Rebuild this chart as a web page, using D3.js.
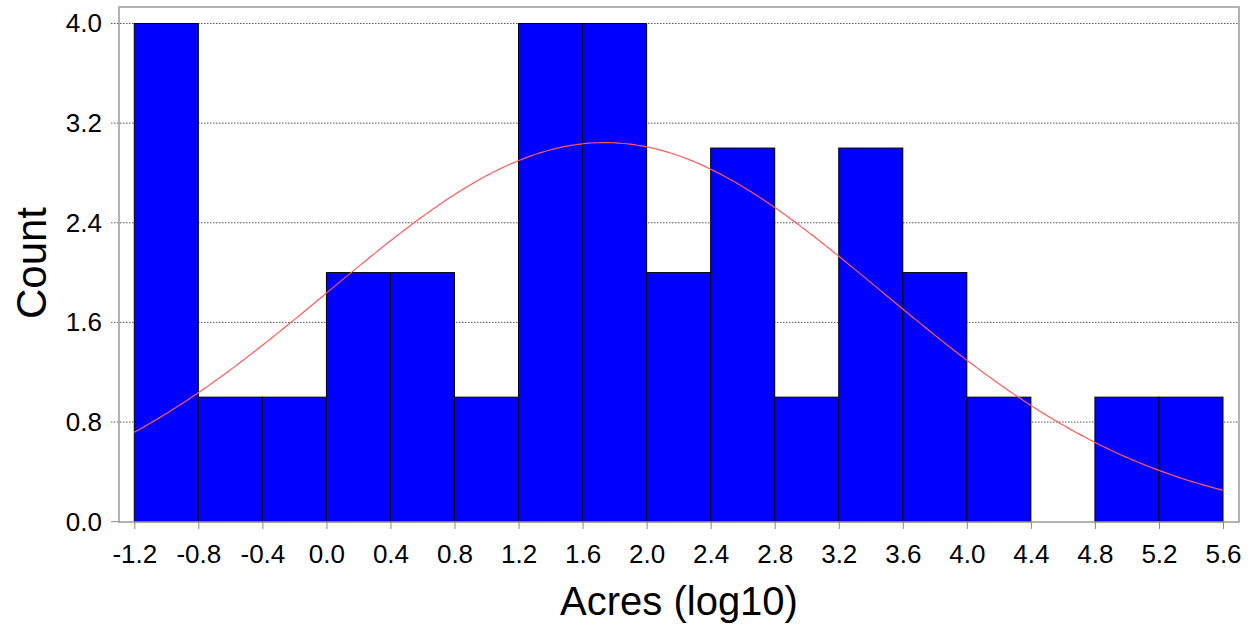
<!DOCTYPE html>
<html><head><meta charset="utf-8">
<script src="https://cdn.jsdelivr.net/npm/d3@7"></script>
<style>body{margin:0;background:#fff}svg{display:block}text{font-family:Arial,"Liberation Sans",sans-serif;fill:#000}</style>
</head><body>
<svg id="c" width="1253" height="629"></svg>
<script>
const binStarts = [-1.2,-0.8,-0.4,0.0,0.4,0.8,1.2,1.6,2.0,2.4,2.8,3.2,3.6,4.0,4.4,4.8,5.2];
const counts    = [4,1,1,2,2,1,4,4,2,3,1,3,2,1,0,1,1];
const binWidth = 0.4;
const xTicks = [-1.2,-0.8,-0.4,0.0,0.4,0.8,1.2,1.6,2.0,2.4,2.8,3.2,3.6,4.0,4.4,4.8,5.2,5.6];
const yTicks = [0.0,0.8,1.6,2.4,3.2,4.0];
const fitMean = 1.74, fitSd = 1.73;

const svg = d3.select("#c");
const frame = {l:119, r:1239, t:7, b:522};
const x = d3.scaleLinear().domain([-1.2,5.6]).range([134.3,1223]);
const y = d3.scaleLinear().domain([0,4]).range([521.7,23.5]);

// grid
svg.append("g").selectAll("line").data(yTicks.filter(d=>d>0)).join("line")
  .attr("x1",frame.l-8).attr("x2",frame.r).attr("y1",d=>y(d)).attr("y2",d=>y(d))
  .attr("stroke","#555").attr("stroke-width",1).attr("stroke-dasharray","1.5,1.5");

// bars
svg.append("g").selectAll("rect").data(binStarts.map((s,i)=>({s,c:counts[i]})).filter(d=>d.c>0)).join("rect")
  .attr("x",d=>x(d.s)).attr("width",d=>x(d.s+binWidth)-x(d.s))
  .attr("y",d=>y(d.c)).attr("height",d=>y(0)-y(d.c))
  .attr("fill","#0000ff").attr("stroke","#000").attr("stroke-width",1);

// normal fit curve
const N = d3.sum(counts);
const pts = d3.range(0,401).map(i=>-1.2+i*6.8/400);
const f = v => N*binWidth/(fitSd*Math.sqrt(2*Math.PI))*Math.exp(-0.5*((v-fitMean)/fitSd)**2);
svg.append("path").datum(pts)
  .attr("d",d3.line().x(d=>x(d)).y(d=>y(f(d))))
  .attr("fill","none").attr("stroke","#ff5a5a").attr("stroke-width",1.2);

// frame
svg.append("rect").attr("x",frame.l).attr("y",frame.t).attr("width",frame.r-frame.l).attr("height",frame.b-frame.t)
  .attr("fill","none").attr("stroke","#9a9a9a").attr("stroke-width",1.5);

// x axis
const xa = svg.append("g").attr("transform",`translate(0,${frame.b})`)
  .call(d3.axisBottom(x).tickValues(xTicks).tickFormat(d3.format(".1f")).tickSize(7).tickPadding(16));
xa.select(".domain").remove();
xa.selectAll("line").attr("stroke","#888");
xa.selectAll("text").style("font-size","26px").text(d=>d3.format(".1f")(d).replace("−","-"));

// y axis
const ya = svg.append("g").attr("transform",`translate(${frame.l},0)`)
  .call(d3.axisLeft(y).tickValues(yTicks).tickFormat(d3.format(".1f")).tickSize(0).tickPadding(17));
ya.select(".domain").remove();
ya.selectAll("text").style("font-size","26px");
svg.append("line").attr("x1",frame.l-8).attr("x2",frame.l).attr("y1",y(0)).attr("y2",y(0)).attr("stroke","#888");

// titles
svg.append("text").attr("x",(frame.l+frame.r)/2).attr("y",615).attr("text-anchor","middle")
  .style("font-size","40px").text("Acres (log10)");
svg.append("text").attr("transform","translate(46,263) rotate(-90)").attr("text-anchor","middle")
  .style("font-size","42px").text("Count");
</script>
</body></html>
